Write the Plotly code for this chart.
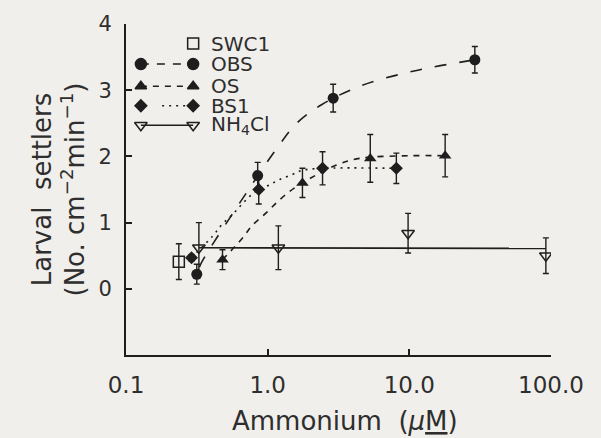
import plotly.graph_objects as go

# ---- data ----
swc1_x = [0.236]
swc1_y = [0.41]
swc1_err = [0.27]

obs_x = [0.316, 0.85, 2.9, 29.0]
obs_y = [0.22, 1.71, 2.88, 3.46]
obs_err = [0.15, 0.20, 0.21, 0.20]

os_x = [0.48, 1.76, 5.3, 17.9]
os_y = [0.44, 1.60, 1.97, 2.01]
os_err = [0.15, 0.22, 0.36, 0.32]

bs1_x = [0.29, 0.865, 2.44, 8.1]
bs1_y = [0.47, 1.50, 1.82, 1.82]
bs1_err = [0.05, 0.22, 0.25, 0.23]

nh4_x = [0.327, 1.19, 9.8, 92.0]
nh4_y = [0.62, 0.62, 0.84, 0.50]
nh4_err = [0.38, 0.33, 0.30, 0.27]

# fitted curves
obs_fit_x = [0.33, 0.35, 0.75, 1.16, 1.6, 2.4, 4.6, 10.8, 29.0]
obs_fit_y = [0.33, 0.44, 1.53, 2.12, 2.50, 2.78, 3.07, 3.29, 3.46]

os_fit_x = [0.48, 0.66, 0.78, 0.98, 1.18, 1.43, 1.76, 3.06, 4.45, 10.0, 17.9]
os_fit_y = [0.44, 0.76, 0.96, 1.15, 1.32, 1.47, 1.60, 1.87, 1.97, 2.01, 2.01]

bs1_fit_x = [0.29, 0.41, 0.48, 0.57, 0.66, 0.75, 0.865, 1.03, 1.21, 1.47, 1.76, 2.44, 8.1]
bs1_fit_y = [0.47, 0.80, 0.98, 1.13, 1.28, 1.40, 1.50, 1.57, 1.65, 1.72, 1.79, 1.82, 1.82]

nh4_fit_x = [0.327, 92.0]
nh4_fit_y = [0.62, 0.61]

x_ticks = [0.1, 1, 10, 100]
x_ticktext = ["0.1", "1.0", "10.0", "100.0"]
y_ticks = [0, 1, 2, 3, 4]

legend_names = ["SWC1", "OBS", "OS", "BS1", "NH<sub>4</sub>Cl"]

# ---- styles ----
INK = "#1e1e1e"
TXT = "#2e2e2e"
BG = "#f1efeb"
FONT = "DejaVu Sans"
DASH_OBS = "12px,13px"
DASH_OS = "6px,6px"
DASH_BS1 = "2px,5px"

fig = go.Figure()

def err(a):
    return dict(type="data", array=a, visible=True, width=3, thickness=1.4, color=INK)

# curves
fig.add_trace(go.Scatter(x=obs_fit_x, y=obs_fit_y, mode="lines", line_shape="spline",
                         line=dict(color=INK, width=1.6, dash=DASH_OBS), showlegend=False, hoverinfo="skip"))
fig.add_trace(go.Scatter(x=os_fit_x, y=os_fit_y, mode="lines", line_shape="spline",
                         line=dict(color=INK, width=1.6, dash=DASH_OS), showlegend=False, hoverinfo="skip"))
fig.add_trace(go.Scatter(x=bs1_fit_x, y=bs1_fit_y, mode="lines", line_shape="spline",
                         line=dict(color=INK, width=1.6, dash=DASH_BS1), showlegend=False, hoverinfo="skip"))
fig.add_trace(go.Scatter(x=nh4_fit_x, y=nh4_fit_y, mode="lines",
                         line=dict(color=INK, width=1.6), showlegend=False, hoverinfo="skip"))

# points
fig.add_trace(go.Scatter(x=swc1_x, y=swc1_y, mode="markers", error_y=err(swc1_err),
                         marker=dict(symbol="square-open", size=11, color=INK, line=dict(width=1.5)),
                         showlegend=False))
fig.add_trace(go.Scatter(x=obs_x, y=obs_y, mode="markers", error_y=err(obs_err),
                         marker=dict(symbol="circle", size=11, color=INK), showlegend=False))
fig.add_trace(go.Scatter(x=os_x, y=os_y, mode="markers", error_y=err(os_err),
                         marker=dict(symbol="triangle-up", size=11, color=INK), showlegend=False))
fig.add_trace(go.Scatter(x=bs1_x, y=bs1_y, mode="markers", error_y=err(bs1_err),
                         marker=dict(symbol="diamond", size=10, color=INK), showlegend=False))
fig.add_trace(go.Scatter(x=nh4_x, y=nh4_y, mode="markers", error_y=err(nh4_err),
                         marker=dict(symbol="triangle-down-open", size=11, color=INK, line=dict(width=1.5)),
                         showlegend=False))

# ---- hand-drawn legend (paper fractions of the plot area) ----
lg_left, lg_right, lg_text = 0.035, 0.158, 0.196
lg_rows = [0.941, 0.879, 0.812, 0.753, 0.694]
lg_symbols = ["square-open", "circle", "triangle-up", "diamond", "triangle-down-open"]
lg_sizes = [11, 11, 10, 9, 11]
lg_lines = [None, DASH_OBS, DASH_OS, DASH_BS1, "solid"]
for i, (yy, sym, sz, dsh) in enumerate(zip(lg_rows, lg_symbols, lg_sizes, lg_lines)):
    if dsh is not None:
        x0 = 0.085 if i == 3 else lg_left
        d = "8px,8px" if i == 1 else dsh
        fig.add_trace(go.Scatter(x=[x0, lg_right], y=[yy, yy], xaxis="x2", yaxis="y2", mode="lines",
                                 line=dict(color=INK, width=1.4, dash=d), showlegend=False, hoverinfo="skip"))
    xs = [lg_right] if i == 0 else [lg_left, lg_right]
    fig.add_trace(go.Scatter(x=xs, y=[yy] * len(xs), xaxis="x2", yaxis="y2", mode="markers",
                             marker=dict(symbol=sym, size=sz, color=INK, line=dict(width=1.5, color=INK)),
                             showlegend=False, hoverinfo="skip"))
    fig.add_annotation(x=lg_text, y=yy, xref="paper", yref="paper", text=legend_names[i],
                       showarrow=False, xanchor="left", yanchor="middle",
                       font=dict(family=FONT, size=20, color=TXT))

# axis titles
fig.add_annotation(x=-0.24, y=0.5, xref="paper", yref="paper",
                   text="Larval  settlers<br>(No. cm<sup>−2</sup>min<sup>−1</sup>)",
                   textangle=-90, showarrow=False, font=dict(family=FONT, size=26, color=TXT),
                   align="center")
fig.add_annotation(x=0.515, y=-0.2, xref="paper", yref="paper",
                   text="Ammonium  (<i>μ</i><span style='text-decoration:underline'>M</span>)",
                   showarrow=False, yanchor="middle", font=dict(family=FONT, size=26, color=TXT))

fig.update_layout(
    width=601, height=438, autosize=False,
    margin=dict(l=126, r=50, t=15, b=83),
    paper_bgcolor=BG, plot_bgcolor=BG,
    font=dict(family=FONT, color=TXT),
    xaxis=dict(type="log", range=[-1, 2], tickvals=x_ticks, ticktext=x_ticktext,
               ticks="inside", ticklen=6, tickwidth=1.5, tickcolor=INK,
               showline=True, linewidth=2, linecolor=INK, mirror=False,
               showgrid=False, zeroline=False, tickfont=dict(size=23, family=FONT, color=TXT),
               ticklabelstandoff=8),
    yaxis=dict(range=[-1, 4], tickvals=y_ticks, ticks="inside", ticklen=6, tickwidth=1.5, tickcolor=INK,
               showline=True, linewidth=2, linecolor=INK, showgrid=False, zeroline=False,
               tickfont=dict(size=21, family=FONT, color=TXT), ticklabelstandoff=8),
    xaxis2=dict(overlaying="x", range=[0, 1], visible=False),
    yaxis2=dict(overlaying="y", range=[0, 1], visible=False),
    showlegend=False,
)

fig.write_html("out.html")
